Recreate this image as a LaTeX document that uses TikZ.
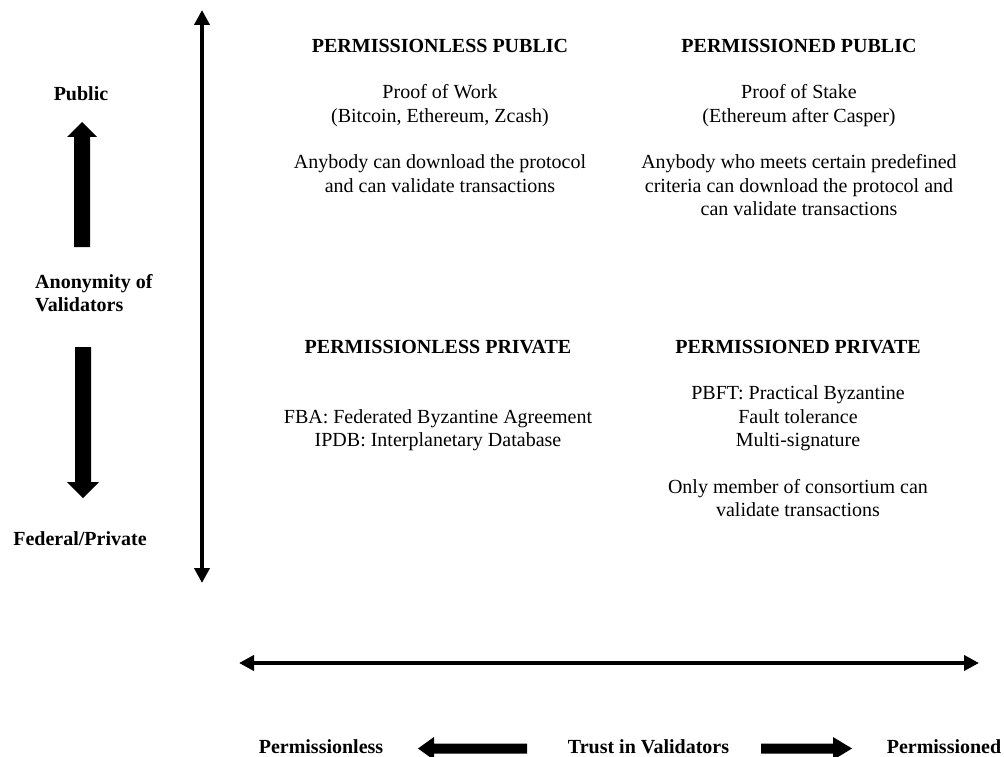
\documentclass[tikz,border=0pt]{standalone}
\usepackage{fontspec}
\setmainfont{Liberation Serif}
\usetikzlibrary{arrows.meta}
\begin{document}
\begin{tikzpicture}[x=1pt,y=-1pt,
  txt/.style={inner sep=0pt, font=\fontsize{20}{23.3}\selectfont},
  quad/.style={txt, align=center, anchor=north},
  lbl/.style={txt, font=\fontsize{20}{23.3}\selectfont\bfseries},
  axisline/.style={line width=4pt,
    {Triangle[length=15pt,width=15pt]}-{Triangle[length=15pt,width=15pt]}},
  blockarrow/.style={fill=black}]
\useasboundingbox (0,0) rectangle (1004,757);

% axes
\coordinate (vtop) at (202,10);
\coordinate (vbot) at (202,583);
\coordinate (hleft) at (239,663);
\coordinate (hright) at (979,663);
\draw[axisline] (vbot) -- (vtop);
\draw[axisline] (hleft) -- (hright);

% quadrant descriptions
\node[quad] (q11) at (440,35.7) {\strut\textbf{PERMISSIONLESS PUBLIC}\\[23.3pt]
  Proof of Work\\(Bitcoin, Ethereum, Zcash)\\[23.3pt]
  Anybody can download the protocol\\and can validate transactions};
\node[quad] (q12) at (799,35.7) {\strut\textbf{PERMISSIONED PUBLIC}\\[23.3pt]
  Proof of Stake\\(Ethereum after Casper)\\[23.3pt]
  Anybody who meets certain predefined\\criteria can download the protocol and\\can validate transactions};
\node[quad] (q21) at (438,336.7) {\strut\textbf{PERMISSIONLESS PRIVATE}\\[46.6pt]
  FBA: Federated Byzantine Agreement\\IPDB: Interplanetary Database};
\node[quad] (q22) at (798,336.7) {\strut\textbf{PERMISSIONED PRIVATE}\\[23.3pt]
  PBFT: Practical Byzantine\\Fault tolerance\\Multi-signature\\[23.3pt]
  Only member of consortium can\\validate transactions};

% vertical legend
\node[lbl, anchor=base] (public) at (81,101) {Public};
\node[lbl, anchor=north west, align=left] (anon) at (35,271.7) {\strut Anonymity of\\Validators};
\node[lbl, anchor=base] (private) at (80,545) {Federal/Private};
\fill[blockarrow] (74,247) -- (74,137) -- (67,137) -- (82,122) -- (97,137) -- (90,137) -- (90,247) -- cycle;
\fill[blockarrow] (75,347) -- (75,482) -- (67,482) -- (83,498) -- (99,482) -- (91,482) -- (91,347) -- cycle;

% horizontal legend
\node[lbl, anchor=base] (pless) at (321,753) {Permissionless};
\node[lbl, anchor=base] (trust) at (648.5,753) {Trust in Validators};
\node[lbl, anchor=base] (pned) at (944,753) {Permissioned};
\fill[blockarrow] (527,743.5) -- (434,743.5) -- (434,737) -- (418,748.5) -- (434,760) -- (434,753.5) -- (527,753.5) -- cycle;
\fill[blockarrow] (761,743.5) -- (833,743.5) -- (833,737) -- (852,748.5) -- (833,760) -- (833,753.5) -- (761,753.5) -- cycle;
\end{tikzpicture}
\end{document}
